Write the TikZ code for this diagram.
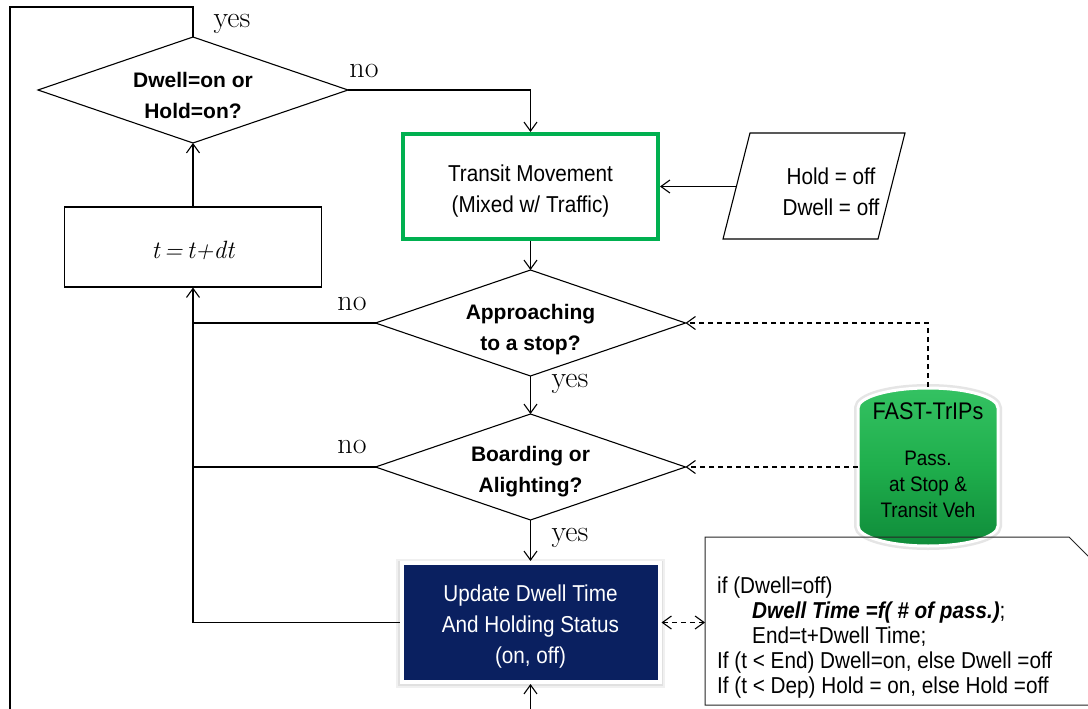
\documentclass[tikz,border=0pt]{standalone}
\usepackage{fontspec}
\newfontfamily\arialn[FakeStretch=0.9]{Liberation Sans}
\newfontfamily\arialb{Liberation Sans}
\usetikzlibrary{arrows.meta,shapes.geometric}
\definecolor{grn}{HTML}{00B050}
\definecolor{navyb}{RGB}{10,32,96}
\definecolor{cylTop}{HTML}{34C262}
\definecolor{cylMid}{HTML}{1FAE4C}
\definecolor{cylBot}{HTML}{0F8C3A}
\tikzset{
  >={Straight Barb[length=9pt,width=13pt]},
  ln/.style={line width=1.1pt},
  arr/.style={ln,->},
  darr/.style={ln,->,dash pattern=on 5pt off 4pt},
  dia/.style={shape=diamond, draw, ln, minimum width=310pt, minimum height=106pt, inner sep=0pt, outer sep=0pt},
  dtext/.style={align=center, font=\arialb\bfseries\fontsize{21}{31}\selectfont, inner sep=0pt},
  ntext/.style={align=center, font=\arialn\fontsize{23}{31}\selectfont, inner sep=0pt},
  yn/.style={font=\rmfamily\fontsize{30}{30}\selectfont, inner sep=0pt},
}
\begin{document}
\begin{tikzpicture}[x=1pt,y=1pt]
\useasboundingbox (0,0) rectangle (1088,-709);
\clip (0,0) rectangle (1088,-709);
\fill[white] (0,0) rectangle (1088,-709);

% decision 1
\node[dia] (d1) at (193,-90) {};
\node[dtext] (d1t) at (193,-95) {Dwell=on or\\Hold=on?};

% transit movement
\node[draw=grn, line width=4pt, minimum width=255pt, minimum height=105pt, inner sep=0pt] (tm) at (530.5,-186.5) {};
\node[ntext] (tmt) at (530.5,-191) {Transit Movement\\(Mixed w/ Traffic)};

% t = t+dt
\node[draw, ln, minimum width=257pt, minimum height=80pt, inner sep=0pt] (tb) at (193,-247) {};
\node[font=\itshape\fontsize{25}{25}\selectfont, inner sep=0pt] (tbt) at (193,-250) {t\,=\,t+dt};

% decisions 2 and 3
\node[dia] (d2) at (530.5,-323) {};
\node[dtext] (d2t) at (530.5,-330) {Approaching\\to a stop?};
\node[dia] (d3) at (530.5,-467) {};
\node[dtext] (d3t) at (530.5,-472) {Boarding or\\Alighting?};

% update box
\fill[black!6] (396,-559) rectangle (665,-688);
\fill[black!12] (398,-561) rectangle (663,-686);
\node[fill=navyb, draw=white, line width=4pt, minimum width=258pt, minimum height=119pt, inner sep=0pt] (upd) at (530.5,-622.5) {};
\node[ntext, text=white] (updt) at (530.5,-627) {Update Dwell Time\\And Holding Status\\(on, off)};

% parallelogram
\draw[ln] (750,-133) -- (905,-133) -- (878,-239) -- (723,-239) -- cycle;
\node[ntext] (par) at (831,-192) {Hold = off\\Dwell = off};
\coordinate (parw) at (736.5,-186.5);

% cylinder
\path[draw=black!10, line width=8pt] (858,-408) arc[start angle=180, end angle=0, x radius=70, y radius=20] -- (998,-526) arc[start angle=0, end angle=-180, x radius=70, y radius=20] -- cycle;
\path[draw=white, line width=3pt, top color=cylTop, bottom color=cylBot, middle color=cylMid] (858,-408) arc[start angle=180, end angle=0, x radius=70, y radius=20] -- (998,-526) arc[start angle=0, end angle=-180, x radius=70, y radius=20] -- cycle;
\node[minimum width=140pt, minimum height=160pt, inner sep=0pt, outer sep=0pt] (fast) at (928,-467) {};
\node[font=\arialn\fontsize{24}{24}\selectfont, inner sep=0pt] (fastt) at (928,-411) {FAST-TrIPs};
\node[align=center, font=\arialn\fontsize{21}{26}\selectfont, inner sep=0pt] (fastp) at (928,-484) {Pass.\\at Stop \&\\Transit Veh};

% note
\draw[line width=1pt, black!85] (705,-537) -- (1069,-537) -- (1110,-578) -- (1110,-705) -- (705,-705) -- cycle;
\node[minimum width=400pt, minimum height=168pt, inner sep=0pt, outer sep=0pt, anchor=west] (note) at (705,-621) {};
\node[align=left, anchor=west, font=\arialn\fontsize{23}{25}\selectfont, inner sep=0pt] (notet) at (717,-638) {if (Dwell=off)\\
\hspace*{35pt}\textbf{\textit{Dwell Time =f( \# of pass.)}};\\
\hspace*{35pt}End=t+Dwell Time;\\
If (t < End) Dwell=on, else Dwell =off\\
If (t < Dep) Hold = on, else Hold =off};

% labels
\node[yn] (y1) at (232,-24) {yes};
\node[yn] (n1) at (364,-71) {no};
\node[yn] (n2) at (352,-304) {no};
\node[yn] (y2) at (570,-384) {yes};
\node[yn] (n3) at (352,-447) {no};
\node[yn] (y3) at (570,-538) {yes};

% connectors
\coordinate (bl) at (10,-709);
\coordinate (tl) at (10,-7);
\coordinate (bm) at (530.5,-709);
\draw[ln] (bl) -- (tl) -| (d1.north);
\draw[arr] (d1.east) -| (tm.north);
\draw[arr] (parw) -- (parw -| tm.east);
\draw[arr] (tm.south) -- (d2.north);
\draw[arr] (d2.south) -- (d3.north);
\draw[arr] (d3.south) -- (upd.north);
\draw[arr] (tb.north) -- (d1.south);
\draw[ln] (d2.west) -- (d2.west -| tb.south);
\draw[ln] (d3.west) -- (d3.west -| tb.south);
\coordinate (j3) at (tb.south |- upd.west);
\draw[arr] (upd.west) -- (j3) -- (tb.south);
\draw[arr] (bm) -- (upd.south);
\draw[darr] (fast.north) |- (d2.east);
\draw[darr] (fast.west) -- (d3.east);
\draw[ln, <->, dash pattern=on 5pt off 4pt] (upd.east) -- (upd.east -| note.west);
\end{tikzpicture}
\end{document}
